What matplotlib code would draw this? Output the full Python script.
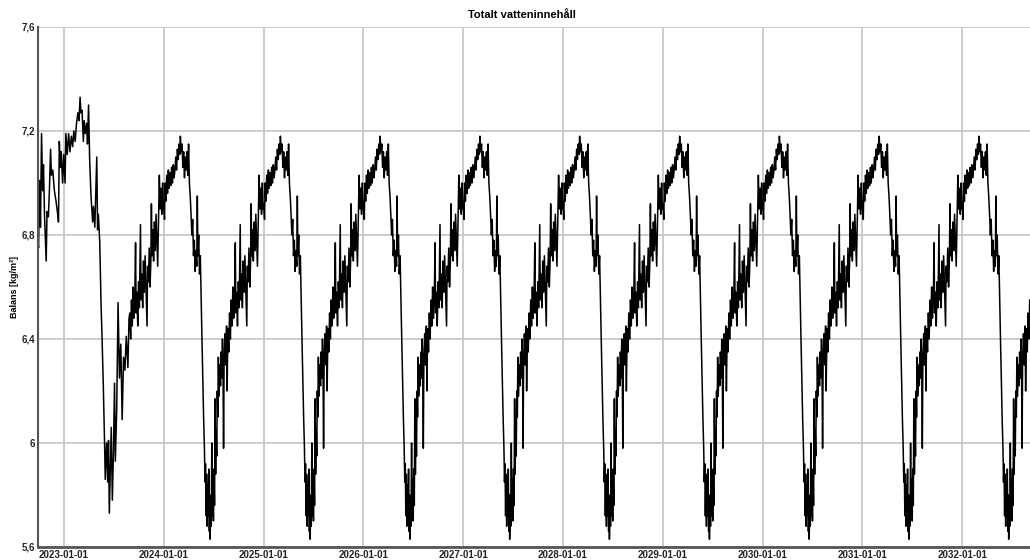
import matplotlib
matplotlib.use('Agg')
import matplotlib.pyplot as plt
import matplotlib.dates as mdates
import pandas as pd

# första perioden (dagar relativt 2023-01-01), avviker från övriga år
first_days = [-95, -93, -89, -86, -82, -78, -75, -71, -65, -62, -57, -53, -49, -46, -41, -35,
              -29, -23, -20, -17, -13, -10, -5, -1, 4, 7, 12, 17, 22, 27, 32, 36, 41, 46, 51,
              55, 59, 62, 66, 71, 74, 78, 83, 86, 90, 94, 99, 105, 108, 113, 120, 123, 126,
              131, 136, 139, 144, 149, 151, 156, 160, 163, 166, 170, 173, 177, 181, 185, 188,
              193, 198, 203, 208, 213, 218, 223, 228, 234, 238]
first_vals = [6.78, 6.75, 7.01, 6.83, 7.19, 6.97, 7.07, 6.87, 6.70, 6.89, 6.87, 6.98, 7.13, 7.03,
              7.05, 6.97, 6.93, 6.88, 6.85, 7.16, 7.06, 7.12, 7.00, 7.11, 7.00, 7.19, 7.11, 7.19,
              7.12, 7.18, 7.14, 7.20, 7.16, 7.23, 7.27, 7.24, 7.33, 7.27, 7.28, 7.16, 7.24, 7.19,
              7.23, 7.15, 7.30, 7.09, 6.95, 6.85, 6.91, 6.83, 7.10, 6.82, 6.88, 6.77, 6.52, 6.42,
              6.22, 5.98, 5.86, 6.00, 5.85, 6.01, 5.73, 5.93, 6.06, 5.78, 5.96, 6.23, 5.93, 6.13,
              6.54, 6.25, 6.38, 6.09, 6.33, 6.28, 6.41, 6.29, 6.48]

# typiskt år (dag på året), upprepas i simuleringen
cycle_days = [0, 3, 5, 8, 11, 14, 17, 20, 23, 26, 29, 32, 35, 38, 41, 44, 47, 50, 53, 56, 59,
              61, 64, 67, 70, 73, 76, 79, 82, 85, 88, 91, 94, 97, 100, 103, 106, 109, 112, 115,
              118, 121, 123, 125, 128, 131, 134, 137, 140, 143, 146, 149, 151, 153, 155, 157,
              159, 161, 163, 165, 167, 169, 170, 172, 174, 176, 178, 180, 182, 184, 186, 188,
              190, 192, 194, 196, 198, 200, 202, 205, 208, 210, 213, 215, 217, 219, 221, 224,
              227, 230, 232, 235, 238, 241, 244, 247, 250, 253, 256, 259, 262, 264, 267, 270,
              273, 276, 280, 282, 285, 288, 291, 294, 297, 300, 304, 306, 309, 312, 315, 318,
              320, 322, 325, 328, 331, 334, 337, 340, 343, 346, 349, 352, 355, 358, 361, 364]
cycle_vals = [6.92, 6.86, 7.00, 6.93, 7.03, 6.96, 7.05, 6.98, 7.04, 6.99, 7.06, 7.00, 7.07, 7.02,
              7.05, 7.10, 7.05, 7.13, 7.09, 7.15, 7.11, 7.18, 7.12, 7.15, 7.06, 7.12, 7.02, 7.10,
              7.05, 7.12, 7.03, 7.15, 7.00, 6.95, 6.88, 6.80, 6.86, 6.72, 6.78, 6.66, 6.74, 6.68,
              6.95, 6.72, 6.80, 6.65, 6.72, 6.55, 6.40, 6.25, 6.10, 5.98, 5.85, 5.92, 5.72, 5.88,
              5.68, 5.84, 5.72, 5.90, 5.66, 5.80, 5.63, 5.78, 5.68, 6.00, 5.72, 5.86, 5.70, 5.90,
              5.76, 6.17, 5.88, 6.05, 5.95, 6.20, 6.10, 6.33, 6.18, 6.30, 6.22, 6.35, 6.25, 6.40,
              6.28, 5.98, 6.32, 6.42, 6.30, 6.45, 6.20, 6.44, 6.35, 6.50, 6.40, 6.55, 6.45, 6.60,
              6.48, 6.55, 6.77, 6.50, 6.58, 6.45, 6.62, 6.52, 6.84, 6.55, 6.65, 6.52, 6.70, 6.58,
              6.72, 6.60, 6.45, 6.68, 6.62, 6.75, 6.60, 6.70, 6.92, 6.72, 6.82, 6.70, 6.85, 6.74,
              6.88, 6.78, 6.68, 6.86, 7.03, 6.90, 6.98, 6.88, 7.00, 6.90]

years = list(range(2023, 2033))
x_start = pd.Timestamp('2022-09-28')
x_end = pd.Timestamp('2032-09-05')

y_ticks = [5.6, 6.0, 6.4, 6.8, 7.2, 7.6]
y_labels = ['5,6', '6', '6,4', '6,8', '7,2', '7,6']

# bygg tidsserien
t0 = pd.Timestamp('2023-01-01')
dates = [t0 + pd.Timedelta(days=d) for d in first_days]
vals = list(first_vals)
for y in years:
    base = pd.Timestamp(f'{y}-01-01')
    for d, v in zip(cycle_days, cycle_vals):
        t = base + pd.Timedelta(days=d)
        if t <= dates[-1] or t > x_end:
            continue
        dates.append(t)
        vals.append(v)

plt.rcParams['font.family'] = ['Liberation Sans', 'DejaVu Sans']

fig = plt.figure(figsize=(10.3, 5.6), dpi=100)
ax = fig.add_axes([38 / 1030, 13 / 560, 1 - 38 / 1030, 520 / 560])

ax.plot(dates, vals, color='black', linewidth=1.1)

ax.set_xlim(x_start, x_end)
ax.set_ylim(5.6, 7.6)
ax.set_yticks(y_ticks)
ax.set_yticklabels(y_labels)
ax.set_xticks([pd.Timestamp(f'{y}-01-01') for y in years])
ax.xaxis.set_major_formatter(mdates.DateFormatter('%Y-%m-%d'))

ax.grid(True, color='#c8c8c8', linewidth=1.3)
ax.set_axisbelow(True)
ax.tick_params(length=0, labelsize=7, pad=2, colors='#222222')
for lab in ax.get_xticklabels() + ax.get_yticklabels():
    lab.set_fontweight('bold')

ax.spines['right'].set_visible(False)
ax.spines['top'].set_visible(False)
ax.spines['left'].set_color('#555555')
ax.spines['left'].set_linewidth(1.5)
ax.spines['bottom'].set_color('#555555')
ax.spines['bottom'].set_linewidth(2)

ax.set_ylabel('Balans [kg/m³]', fontsize=6.5, fontweight='bold', labelpad=2)
fig.text(522 / 1030, 1 - 15 / 560, 'Totalt vatteninnehåll', ha='center', va='center',
         fontsize=8, fontweight='bold')

fig.savefig('out.png', dpi=100)
